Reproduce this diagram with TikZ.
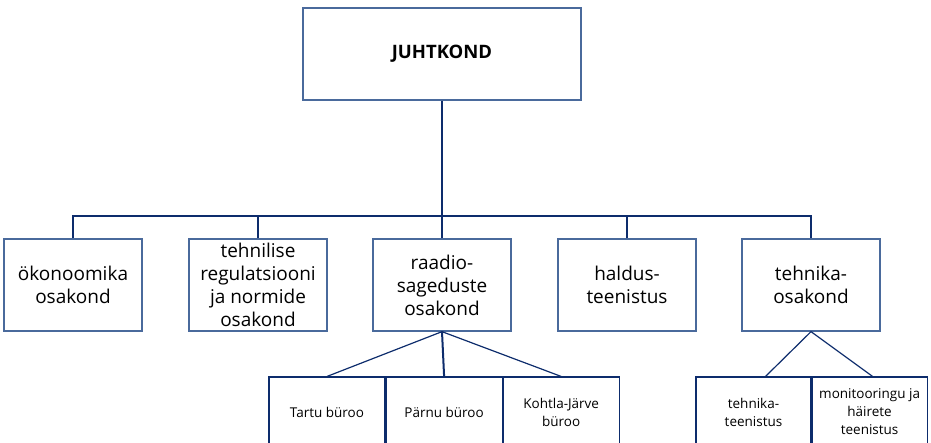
\documentclass[tikz,border=0pt]{standalone}
\usepackage{fontspec}
\setmainfont{Open Sans}
\usepackage{xcolor}
\usepackage{tikz}
\usetikzlibrary{positioning}

\definecolor{boxblue}{HTML}{4A6A9C}
\definecolor{lineblue}{HTML}{0D2C6C}

\begin{document}
\begin{tikzpicture}[x=1pt, y=-1pt,
    unit/.style={draw=boxblue, line width=1.3pt, fill=white, minimum width=138pt,
                 minimum height=92pt, align=center, inner sep=2pt,
                 font=\fontsize{19}{23}\selectfont},
    office/.style={draw=lineblue, line width=1.1pt, fill=white, minimum width=116pt,
                   minimum height=70pt, align=center, inner sep=1pt,
                   font=\fontsize{13.5}{18}\selectfont},
    bus/.style={draw=lineblue, line width=2pt},
    fan/.style={draw=lineblue, line width=1.2pt}]
    \useasboundingbox (0,0) rectangle (931,443);
    \clip (0,0) rectangle (931,443);

    \node[unit, minimum width=278pt, font=\fontsize{18.5}{22}\selectfont\bfseries] (jk) at (442,54) {JUHTKOND};

    \node[unit] (ok) at (73,285) {ökonoomika\\osakond};
    \node[unit] (tr) at (258,285) {tehnilise\\regulatsiooni\\ja normide\\osakond};
    \node[unit] (rad) at (442,285) {raadio-\\sageduste\\osakond};
    \node[unit] (hd) at (627,285) {haldus-\\teenistus};
    \node[unit] (tk) at (811,285) {tehnika-\\osakond};

    \node[office] (tb) at (327,412) {Tartu büroo};
    \node[office, right=0pt of tb] (pb) {Pärnu büroo};
    \node[office, right=0pt of pb] (kb) {Kohtla-Järve\\büroo};

    \node[office, minimum width=115pt] (tt) at (753.5,412) {tehnika-\\teenistus};
    \node[office, minimum width=115pt, right=0pt of tt] (mh) {monitooringu ja\\häirete\\teenistus};

    \coordinate (hub) at (442,216);

    \draw[bus] (ok.north) -- (ok.north |- hub) -- (tk.north |- hub) -- (tk.north);
    \draw[bus] (jk.south) -- (rad.north);
    \draw[bus] (tr.north) -- (tr.north |- hub);
    \draw[bus] (hd.north) -- (hd.north |- hub);

    \draw[fan] (tb.north) -- (rad.south) -- (kb.north);
    \draw[bus] (rad.south) -- (pb.north);
    \draw[fan] ([xshift=12pt]tt.north) -- (tk.south) -- ([xshift=3pt]mh.north);
\end{tikzpicture}
\end{document}
